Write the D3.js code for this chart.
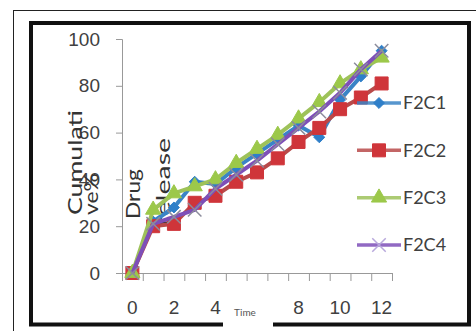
<!DOCTYPE html>
<html>
<head>
<meta charset="utf-8">
<script src="https://cdn.jsdelivr.net/npm/d3@7.9.0/dist/d3.min.js"></script>
<style>
  body { margin: 0; background: #fff; }
  svg { display: block; font-family: Lato, "Open Sans", sans-serif; }
</style>
</head>
<body>
<svg id="chart" width="476" height="331"></svg>
<script>
// data
const times = [0, 1, 2, 3, 4, 5, 6, 7, 8, 9, 10, 11, 12];
const F2C1 = [0, 22, 28, 39, 38, 45, 51, 57, 63, 58, 74, 84, 95];
const F2C2 = [0, 20, 21, 30, 33, 39, 43, 49, 56, 62, 70, 75, 81];
const F2C3 = [0, 27, 34, 37, 40, 47, 53, 59, 66, 73, 81, 87, 92];
const F2C4 = [0, 21, 24, 27, 36, 42, 48, 55, 62, 69, 77, 87, 95];
const seriesNames = ["F2C1", "F2C2", "F2C3", "F2C4"];
const yTicks = [0, 20, 40, 60, 80, 100];
// "6" sits under the axis title box in the original, so it is not shown
const xLabels = [0, 2, 4, 8, 10, 12];
const yTitle = ["Cumulati", "ve%", "Drug", "release"];
const xTitle = "Time";

const svg = d3.select("#chart");

const plotLeft = 122, plotRight = 392, plotTop = 39, plotBottom = 273;

// category axis like Excel: labels at centres, ticks between
const xBand = d3.scaleBand().domain(times).range([plotLeft, plotRight]);
const xPos = d => xBand(d) + xBand.bandwidth() / 2;
const xEdge = d3.scaleLinear().domain([-0.5, 12.5]).range([plotLeft, plotRight]);
const y = d3.scaleLinear().domain([0, 100]).range([plotBottom, plotTop]);

// frames
svg.append("rect")
    .attr("x", 13.5).attr("y", 10.5)
    .attr("width", 480).attr("height", 340)
    .attr("fill", "none").attr("stroke", "#222").attr("stroke-width", 1);
svg.append("rect")
    .attr("x", 31).attr("y", 23)
    .attr("width", 438).attr("height", 301.5)
    .attr("fill", "none").attr("stroke", "#111").attr("stroke-width", 4);

// y axis
const yAxis = svg.append("g")
    .attr("transform", `translate(${plotLeft},0)`)
    .call(d3.axisLeft(y).tickValues(yTicks).tickSize(6).tickPadding(16));
yAxis.select(".domain").attr("stroke", "#999");
yAxis.selectAll(".tick line").attr("stroke", "#999");
yAxis.selectAll("text")
    .attr("fill", "#404040")
    .style("font-size", "19px");

// x axis: tick marks at category edges
const xTickAxis = svg.append("g")
    .attr("transform", `translate(0,${plotBottom})`)
    .call(d3.axisBottom(xEdge).tickValues(d3.range(-0.5, 13, 1)).tickSize(8).tickFormat(""));
xTickAxis.select(".domain").attr("stroke", "#999");
xTickAxis.selectAll(".tick line").attr("stroke", "#999");

// x labels
const xLabelAxis = svg.append("g")
    .attr("transform", `translate(0,${plotBottom})`)
    .call(d3.axisBottom(xBand).tickValues(xLabels).tickSize(0).tickPadding(28));
xLabelAxis.select(".domain").remove();
xLabelAxis.selectAll("text")
    .attr("fill", "#404040")
    .style("font-size", "19px");

// y title, broken over lines the way the original is
const titlePos = [
    { bx: 82, by: 215, len: 105 },
    { bx: 98, by: 215, len: 42 },
    { bx: 140, by: 219, len: 50 },
    { bx: 170, by: 226, len: 88 }
];
yTitle.forEach((t, i) => {
    svg.append("text")
        .attr("transform", `translate(${titlePos[i].bx},${titlePos[i].by}) rotate(-90)`)
        .attr("textLength", titlePos[i].len)
        .attr("lengthAdjust", "spacingAndGlyphs")
        .attr("fill", "#333")
        .style("font-size", "20px")
        .text(t);
});

// series
const diamond = {
    draw(ctx, size) {
        const r = Math.sqrt(size) / 2;
        ctx.moveTo(0, -r); ctx.lineTo(r, 0); ctx.lineTo(0, r); ctx.lineTo(-r, 0); ctx.closePath();
    }
};
const series = [
    { name: seriesNames[0], values: F2C1, color: "#2f7fc9", line: "#3a84c6", symbol: diamond, size: 120 },
    { name: seriesNames[1], values: F2C2, color: "#cf353a", line: "#b84a4a", symbol: d3.symbolSquare, size: 169 },
    { name: seriesNames[2], values: F2C3, color: "#9cc84a", line: "#9ec25a", symbol: d3.symbolTriangle, size: 100 },
    { name: seriesNames[3], values: F2C4, color: "#8a62c0", line: "#7e4fb8", symbol: d3.symbolX, size: 120, stroke: true }
];

const line = d3.line()
    .x((d, i) => xPos(times[i]))
    .y(d => y(d));

series.forEach(s => {
    svg.append("path")
        .datum(s.values)
        .attr("d", line)
        .attr("fill", "none")
        .attr("stroke", s.line)
        .attr("stroke-width", 4)
        .attr("stroke-linejoin", "round");

    svg.selectAll(null)
        .data(s.values)
        .enter()
        .append("path")
        .attr("transform", (d, i) => `translate(${xPos(times[i])},${y(d)})`)
        .attr("d", d3.symbol().type(s.symbol).size(s.size))
        .attr("fill", s.stroke ? "none" : s.color)
        .attr("stroke", s.stroke ? "#8c8c9c" : s.color)
        .attr("stroke-width", s.stroke ? 1.5 : 1);
});

// legend
const legend = svg.append("g");
const legendY = d3.scalePoint().domain(seriesNames).range([103, 245]);
series.forEach(s => {
    const ly = legendY(s.name);
    legend.append("line")
        .attr("x1", 357).attr("x2", 401)
        .attr("y1", ly).attr("y2", ly)
        .attr("stroke", s.line)
        .attr("stroke-opacity", 0.85)
        .attr("stroke-width", 3.5);
    legend.append("path")
        .attr("transform", `translate(379,${ly})`)
        .attr("d", d3.symbol().type(s.symbol).size(s.size))
        .attr("fill", s.stroke ? "none" : s.color)
        .attr("stroke", s.stroke ? "#b8a8dc" : s.color)
        .attr("stroke-width", s.stroke ? 1.5 : 1);
    legend.append("text")
        .attr("x", 403)
        .attr("y", ly)
        .attr("dy", "0.35em")
        .attr("fill", "#404040")
        .style("font-size", "18px")
        .text(s.name);
});

// the axis title box breaks the frame under it
svg.append("rect")
    .attr("x", 223).attr("y", 301)
    .attr("width", 50).attr("height", 30)
    .attr("fill", "#fff");
svg.append("text")
    .attr("x", 245)
    .attr("y", 312)
    .attr("dy", "0.35em")
    .attr("text-anchor", "middle")
    .attr("fill", "#555")
    .style("font-size", "10px")
    .text(xTitle);
</script>
</body>
</html>
